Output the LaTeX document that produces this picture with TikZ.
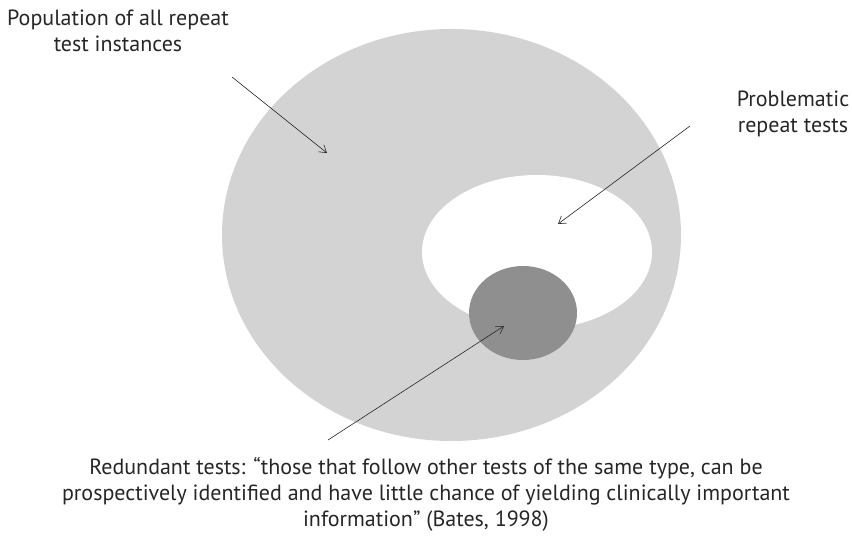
\documentclass[tikz,border=0pt]{standalone}
\usepackage{fontspec}
\setmainfont{PT Sans}
\usepackage{tikz}
\usetikzlibrary{arrows.meta, positioning, shapes.geometric}
\definecolor{popgray}{HTML}{D3D3D3}
\definecolor{redgray}{HTML}{8F8F8F}

\begin{document}
\begin{tikzpicture}[
  x=1pt, y=-1pt,
  every node/.style={font=\fontsize{22}{26}\selectfont, text=black!85},
  region/.style={ellipse, inner sep=0pt},
  caption/.style={align=center},
  arrow/.style={-{Straight Barb[length=7pt, width=9pt]}, semithick, black!85}
]
\useasboundingbox (0,0) rectangle (852,537);

% Regions
\node[region, fill=popgray, minimum width=459pt, minimum height=412pt] (pop) at (451.5,235) {};
\node[region, fill=white, minimum width=230pt, minimum height=154pt] (prob) at (537,252) {};
\node[region, fill=redgray, minimum width=108pt, minimum height=94pt] (redund) at (523,313) {};

% Labels
\node[caption] (poplabel) at (118,31) {Population of all repeat\\test instances};
\node[caption] (problabel) at (793,114) {Problematic\\repeat tests};
\node[caption] (redlabel) at (426,494) {Redundant tests: ``those that follow other tests of the same type, can be\\prospectively identified and have little chance of yielding clinically important\\information'' (Bates, 1998)};

% Arrows
\coordinate (popstart) at (232,77);
\coordinate (popend) at (327,153);
\coordinate (probstart) at (690,126);
\coordinate (probend) at (558,224);
\coordinate (redstart) at (328,440);
\coordinate (redend) at (504,326);
\draw[arrow] (popstart) -- (popend);
\draw[arrow] (probstart) -- (probend);
\draw[arrow] (redstart) -- (redend);

\end{tikzpicture}
\end{document}
